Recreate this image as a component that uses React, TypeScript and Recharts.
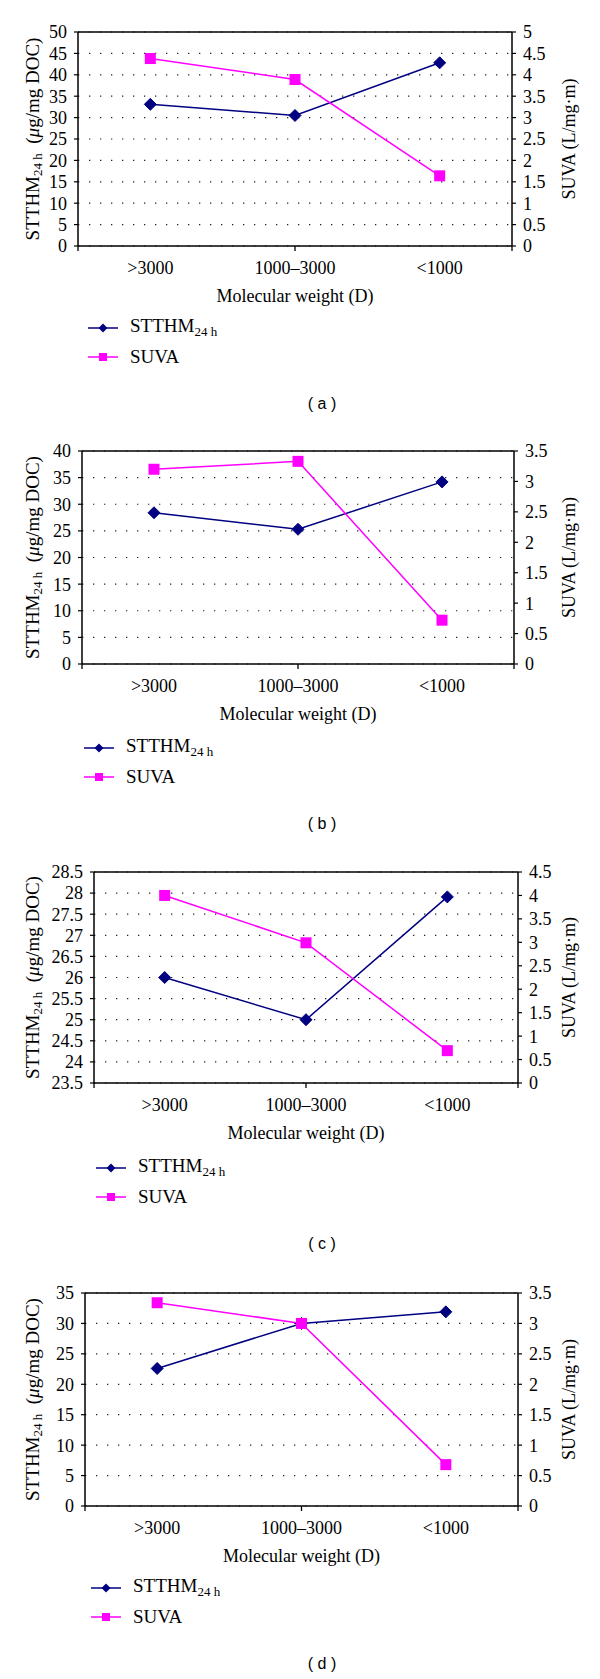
import React from "react";
import {
  LineChart,
  Line,
  XAxis,
  YAxis,
  CartesianGrid,
  ReferenceLine,
  Legend,
  Label,
} from "recharts";

const categories = [">3000", "1000–3000", "<1000"];

// panel (a)
const sthmA = [33.1, 30.5, 42.8];
const suvaA = [4.38, 3.89, 1.64];
const leftTicksA = [0, 5, 10, 15, 20, 25, 30, 35, 40, 45, 50];
const rightTicksA = [0, 0.5, 1, 1.5, 2, 2.5, 3, 3.5, 4, 4.5, 5];

// panel (b)
const sthmB = [28.4, 25.3, 34.2];
const suvaB = [3.2, 3.33, 0.72];
const leftTicksB = [0, 5, 10, 15, 20, 25, 30, 35, 40];
const rightTicksB = [0, 0.5, 1, 1.5, 2, 2.5, 3, 3.5];

// panel (c)
const sthmC = [26.0, 25.0, 27.91];
const suvaC = [4.0, 2.99, 0.69];
const leftTicksC = [23.5, 24, 24.5, 25, 25.5, 26, 26.5, 27, 27.5, 28, 28.5];
const rightTicksC = [0, 0.5, 1, 1.5, 2, 2.5, 3, 3.5, 4, 4.5];

// panel (d)
const sthmD = [22.6, 30.0, 31.9];
const suvaD = [3.34, 3.0, 0.68];
const leftTicksD = [0, 5, 10, 15, 20, 25, 30, 35];
const rightTicksD = [0, 0.5, 1, 1.5, 2, 2.5, 3, 3.5];

const boundaryTicks = [0, 1, 2, 3];

const NAVY = "#000080";
const MAGENTA = "#ff00ff";
const SERIF = '"Liberation Serif", "Times New Roman", serif';
const SANS = '"Liberation Sans", Arial, sans-serif';
const W = 600;
const H = 420;
const CAT_AXIS_H = 59;

type Frame = { left: number; right: number; top: number; bottom: number; legendLeft: number };

const frames: Frame[] = [
  { left: 78, right: 512, top: 32, bottom: 246, legendLeft: 88 },
  { left: 82, right: 514, top: 31, bottom: 244, legendLeft: 84 },
  { left: 94, right: 518, top: 32, bottom: 243, legendLeft: 96 },
  { left: 85, right: 518, top: 33, bottom: 246, legendLeft: 91 },
];

const diamond = (props: any) => {
  const { cx, cy, index } = props;
  if (cx == null || cy == null) return <g key={`dn-${index}`} />;
  const r = 6;
  return (
    <path
      key={`dm-${index}`}
      d={`M${cx},${cy - r}L${cx + r},${cy}L${cx},${cy + r}L${cx - r},${cy}Z`}
      fill={NAVY}
      stroke={NAVY}
    />
  );
};

const square = (props: any) => {
  const { cx, cy, index } = props;
  if (cx == null || cy == null) return <g key={`sn-${index}`} />;
  const r = 5.5;
  return <rect key={`sq-${index}`} x={cx - r} y={cy - r} width={2 * r} height={2 * r} fill={MAGENTA} />;
};

const emptyTick = () => <g />;

const tickStyle = { fontFamily: SERIF, fontSize: 18, fill: "#000" };

function LegendBox() {
  const row = { display: "flex", alignItems: "center", height: 29 } as const;
  return (
    <div style={{ fontFamily: SERIF, fontSize: 19, color: "#000" }}>
      <div style={row}>
        <svg width={30} height={14}>
          <line x1={0} x2={30} y1={7} y2={7} stroke={NAVY} strokeWidth={1.5} />
          <path d="M15,2.5L19.5,7L15,11.5L10.5,7Z" fill={NAVY} />
        </svg>
        <span style={{ marginLeft: 12 }}>
          STTHM<sub style={{ fontSize: 13, verticalAlign: "-4px" }}>24 h</sub>
        </span>
      </div>
      <div style={row}>
        <svg width={30} height={14}>
          <line x1={0} x2={30} y1={7} y2={7} stroke={MAGENTA} strokeWidth={1.5} />
          <rect x={11} y={3} width={8} height={8} fill={MAGENTA} />
        </svg>
        <span style={{ marginLeft: 12 }}>SUVA</span>
      </div>
    </div>
  );
}

type PanelProps = {
  sthm: number[];
  suva: number[];
  leftTicks: number[];
  rightTicks: number[];
  frame: Frame;
  caption: string;
};

function Panel({ sthm, suva, leftTicks, rightTicks, frame, caption }: PanelProps) {
  const data = categories.map((cat, i) => ({ cat, sthm: sthm[i], suva: suva[i] }));
  const leftMin = leftTicks[0];
  const leftMax = leftTicks[leftTicks.length - 1];
  const rightMax = rightTicks[rightTicks.length - 1];
  const midY = (frame.top + frame.bottom) / 2;
  const midX = (frame.left + frame.right) / 2;

  const leftTitle = () => (
    <text
      x={32}
      y={midY}
      transform={`rotate(-90 32 ${midY})`}
      textAnchor="middle"
      dominantBaseline="central"
      fontFamily={SERIF}
      fontSize={19}
      fill="#000"
    >
      <tspan>STTHM</tspan>
      <tspan dy={5} fontSize={13}>24 h</tspan>
      <tspan dy={-5}>{"\u00a0\u00a0("}</tspan>
      <tspan fontStyle="italic">μ</tspan>
      <tspan>g/mg DOC)</tspan>
    </text>
  );

  const rightTitle = () => (
    <text
      x={569}
      y={midY}
      transform={`rotate(-90 569 ${midY})`}
      textAnchor="middle"
      dominantBaseline="central"
      fontFamily={SERIF}
      fontSize={18}
      fill="#000"
    >
      SUVA (L/mg·m)
    </text>
  );

  const xTitle = () => (
    <text
      x={midX}
      y={frame.bottom + 50}
      textAnchor="middle"
      dominantBaseline="central"
      fontFamily={SERIF}
      fontSize={18}
      fill="#000"
    >
      Molecular weight (D)
    </text>
  );

  return (
    <div style={{ position: "relative", width: W, height: H }}>
      <LineChart
        width={W}
        height={H}
        data={data}
        margin={{ top: frame.top, bottom: H - frame.bottom - CAT_AXIS_H - 1, left: 0, right: 0 }}
      >
        <CartesianGrid
          xAxisId="bCat"
          yAxisId="left"
          vertical={false}
          stroke="#222"
          strokeWidth={1.2}
          strokeDasharray="1.3 9.7"
        />
        <XAxis
          xAxisId="bCat"
          dataKey="cat"
          scale="band"
          height={CAT_AXIS_H}
          interval={0}
          axisLine={false}
          tickLine={false}
          tickSize={0}
          tickMargin={14}
          tick={tickStyle}
        >
          <Label content={xTitle} />
        </XAxis>
        <XAxis
          xAxisId="aBound"
          type="number"
          domain={[0, 3]}
          ticks={boundaryTicks}
          allowDataOverflow
          height={1}
          axisLine={false}
          tickLine={{ stroke: "#000", strokeWidth: 1.3 }}
          tickSize={5}
          tick={emptyTick}
        />
        <YAxis
          yAxisId="left"
          orientation="left"
          width={frame.left}
          type="number"
          domain={[leftMin, leftMax]}
          ticks={leftTicks}
          interval={0}
          allowDataOverflow
          axisLine={{ stroke: "#000", strokeWidth: 1.5 }}
          tickLine={{ stroke: "#000", strokeWidth: 1.2 }}
          tickSize={4}
          tickMargin={7}
          tick={tickStyle}
        >
          <Label content={leftTitle} />
        </YAxis>
        <YAxis
          yAxisId="right"
          orientation="right"
          width={W - frame.right}
          type="number"
          domain={[0, rightMax]}
          ticks={rightTicks}
          interval={0}
          allowDataOverflow
          axisLine={{ stroke: "#000", strokeWidth: 1.5 }}
          tickLine={{ stroke: "#000", strokeWidth: 1.2 }}
          tickSize={4}
          tickMargin={7}
          tick={{ ...tickStyle, textAnchor: "start" }}
        >
          <Label content={rightTitle} />
        </YAxis>
        <ReferenceLine xAxisId="bCat" yAxisId="left" y={leftMax} stroke="#000" strokeWidth={1.5} />
        <ReferenceLine xAxisId="bCat" yAxisId="left" y={leftMin} stroke="#000" strokeWidth={1.5} />
        <Legend
          layout="horizontal"
          verticalAlign="middle"
          align="center"
          content={() => <LegendBox />}
          wrapperStyle={{ position: "absolute", left: frame.legendLeft, top: 313, width: 220, height: 60 }}
        />
        <Line
          xAxisId="bCat"
          yAxisId="left"
          type="linear"
          dataKey="sthm"
          stroke={NAVY}
          strokeWidth={1.5}
          dot={diamond}
          activeDot={false}
          isAnimationActive={false}
        />
        <Line
          xAxisId="bCat"
          yAxisId="right"
          type="linear"
          dataKey="suva"
          stroke={MAGENTA}
          strokeWidth={1.5}
          dot={square}
          activeDot={false}
          isAnimationActive={false}
        />
      </LineChart>
      <div
        style={{
          position: "absolute",
          left: 322,
          top: 404,
          transform: "translate(-50%, -50%)",
          fontFamily: SANS,
          fontSize: 16,
          whiteSpace: "pre",
          color: "#000",
        }}
      >
        {caption}
      </div>
    </div>
  );
}

export default function App() {
  return (
    <div style={{ position: "absolute", left: 0, top: 0, width: W, background: "#fff" }}>
      <Panel sthm={sthmA} suva={suvaA} leftTicks={leftTicksA} rightTicks={rightTicksA} frame={frames[0]} caption="( a )" />
      <Panel sthm={sthmB} suva={suvaB} leftTicks={leftTicksB} rightTicks={rightTicksB} frame={frames[1]} caption="( b )" />
      <Panel sthm={sthmC} suva={suvaC} leftTicks={leftTicksC} rightTicks={rightTicksC} frame={frames[2]} caption="( c )" />
      <Panel sthm={sthmD} suva={suvaD} leftTicks={leftTicksD} rightTicks={rightTicksD} frame={frames[3]} caption="( d )" />
    </div>
  );
}
